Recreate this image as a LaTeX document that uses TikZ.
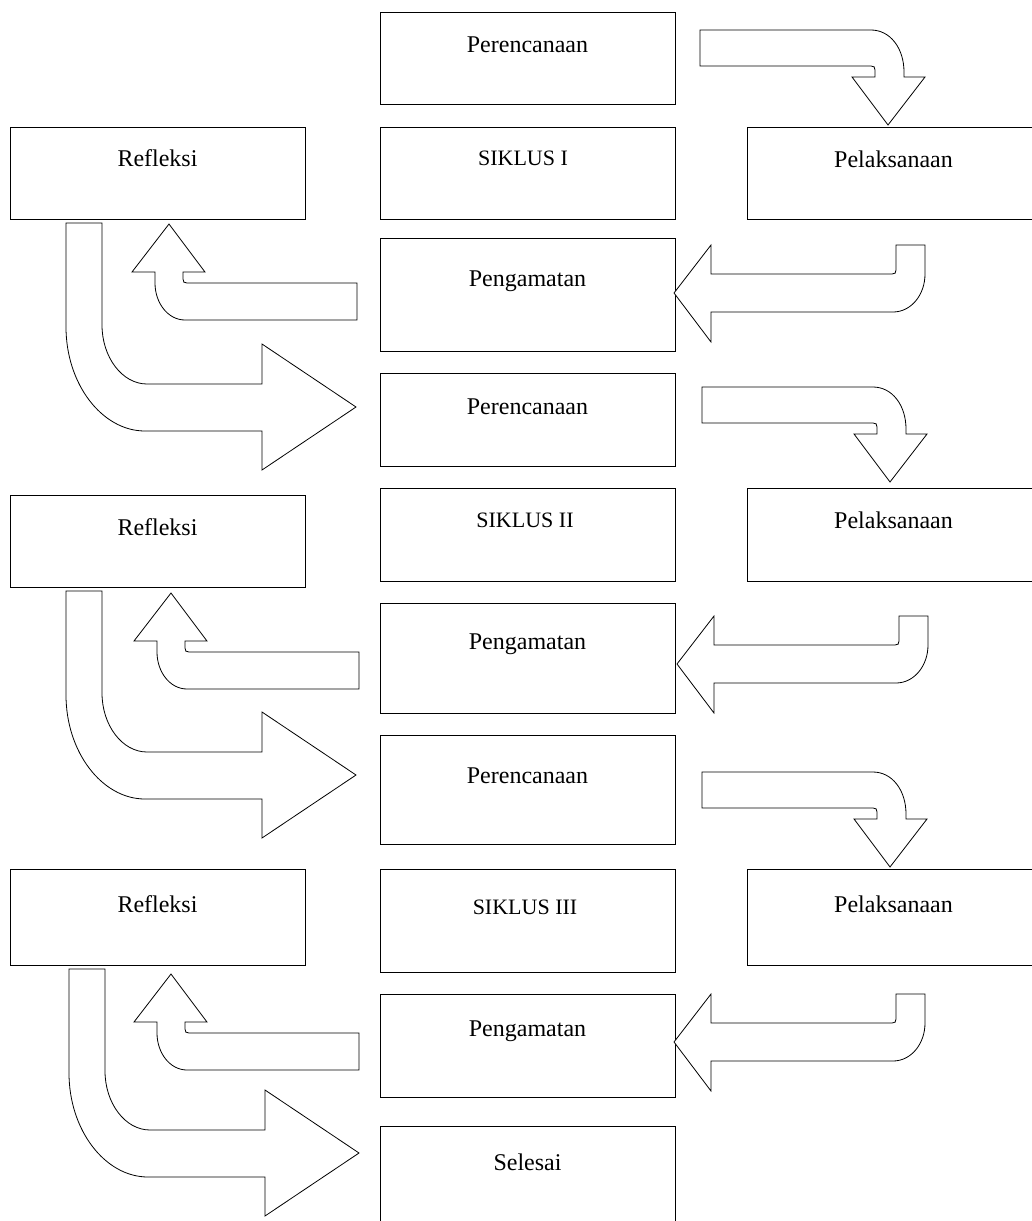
\documentclass[tikz,border=0pt]{standalone}
\usepackage{fontspec}
\setmainfont{Liberation Serif}
\tikzset{
  box/.style={draw=black,line width=1pt,rectangle,inner sep=0pt},
  lbl/.style={anchor=base,font=\fontsize{24}{29}\selectfont,inner sep=0pt},
  slbl/.style={anchor=base,font=\fontsize{22}{27}\selectfont,inner sep=0pt},
  arrowline/.style={draw=black,line width=0.8pt,line join=miter,fill=white},
  bendright/.pic={
    \path[arrowline] (0,0) -- (171,0) .. controls (190,0) and (204,18) .. (204,42)
      -- (204,47) -- (225,47) -- (188,95) -- (152,47) -- (175,47) -- (175,40)
      .. controls (175,37) and (174,36) .. (171,36) -- (0,36) -- cycle;
  },
  bendleft/.pic={
    \path[arrowline] (0,0) -- (37,-48) -- (37,-19) -- (218,-19)
      .. controls (221,-19) and (222,-20) .. (222,-23) -- (222,-48) -- (251,-48)
      -- (251,-19) .. controls (251,2) and (237,19) .. (219,19) -- (37,19)
      -- (37,49) -- cycle;
  },
  bendup/.pic={
    \path[arrowline] (0,0) -- (36,48) -- (14,48) -- (14,55)
      .. controls (14,58) and (15,59) .. (18,59) -- (188,59) -- (188,96) -- (16,96)
      .. controls (-1,96) and (-14,79) .. (-14,59) -- (-14,48) -- (-37,48) -- cycle;
  },
  bigarrow/.pic={
    \path[arrowline] (0,0) -- (36,0) -- (36,102) .. controls (36,134) and (56,161) .. (81,161)
      -- (196,161) -- (196,121) -- (290,184) -- (196,247) -- (196,208) -- (79,208)
      .. controls (36,208) and (0,161) .. (0,104) -- cycle;
  }
}
\begin{document}
\begin{tikzpicture}[x=1pt,y=-1pt]
\useasboundingbox (0,0) rectangle (1032,1221);
\fill[white] (0,0) rectangle (1032,1221);
\clip (0,0) rectangle (1032,1221);

% ---- cycle I
\node[box,minimum width=295pt,minimum height=92pt] (p1) at (527.5,58) {};
\node[box,minimum width=295pt,minimum height=92pt] (s1) at (527.5,173) {};
\node[box,minimum width=295pt,minimum height=92pt] (r1) at (157.5,173) {};
\node[box,minimum width=293pt,minimum height=92pt] (l1) at (893.5,173) {};
\node[box,minimum width=295pt,minimum height=113pt] (g1) at (527.5,294.5) {};
% ---- cycle II
\node[box,minimum width=295pt,minimum height=93pt] (p2) at (527.5,419.5) {};
\node[box,minimum width=295pt,minimum height=93pt] (s2) at (527.5,534.5) {};
\node[box,minimum width=295pt,minimum height=92pt] (r2) at (157.5,541) {};
\node[box,minimum width=293pt,minimum height=93pt] (l2) at (893.5,534.5) {};
\node[box,minimum width=295pt,minimum height=110pt] (g2) at (527.5,658) {};
% ---- cycle III
\node[box,minimum width=295pt,minimum height=109pt] (p3) at (527.5,789.5) {};
\node[box,minimum width=295pt,minimum height=103pt] (s3) at (527.5,920.5) {};
\node[box,minimum width=295pt,minimum height=96pt] (r3) at (157.5,917) {};
\node[box,minimum width=293pt,minimum height=96pt] (l3) at (893.5,917) {};
\node[box,minimum width=295pt,minimum height=103pt] (g3) at (527.5,1045.5) {};
\node[box,minimum width=295pt,minimum height=114pt] (e) at (527.5,1183) {};

% ---- labels
\node[lbl] (p1t) at (527.5,52) {Perencanaan};
\node[slbl] (s1t) at (523,165) {SIKLUS I};
\node[lbl] (r1t) at (157.5,166) {Refleksi};
\node[lbl] (l1t) at (893.5,167) {Pelaksanaan};
\node[lbl] (g1t) at (527.5,286) {Pengamatan};
\node[lbl] (p2t) at (527.5,414) {Perencanaan};
\node[slbl] (s2t) at (525,527) {SIKLUS II};
\node[lbl] (r2t) at (157.5,535) {Refleksi};
\node[lbl] (l2t) at (893.5,528) {Pelaksanaan};
\node[lbl] (g2t) at (527.5,649) {Pengamatan};
\node[lbl] (p3t) at (527.5,783) {Perencanaan};
\node[slbl] (s3t) at (525,914) {SIKLUS III};
\node[lbl] (r3t) at (157.5,912) {Refleksi};
\node[lbl] (l3t) at (893.5,912) {Pelaksanaan};
\node[lbl] (g3t) at (527.5,1036) {Pengamatan};
\node[lbl] (et) at (527.5,1170) {Selesai};

% ---- block arrows
\pic at (700,30) {bendright};
\pic at (702,387) {bendright};
\pic at (702,772) {bendright};
\pic at (674,293) {bendleft};
\pic at (677,664) {bendleft};
\pic at (674,1042) {bendleft};
\pic at (169,224) {bendup};
\pic at (171,593) {bendup};
\pic at (171,974) {bendup};
\pic at (66,223) {bigarrow};
\pic at (66,591) {bigarrow};
\pic at (69,969) {bigarrow};
\end{tikzpicture}
\end{document}
